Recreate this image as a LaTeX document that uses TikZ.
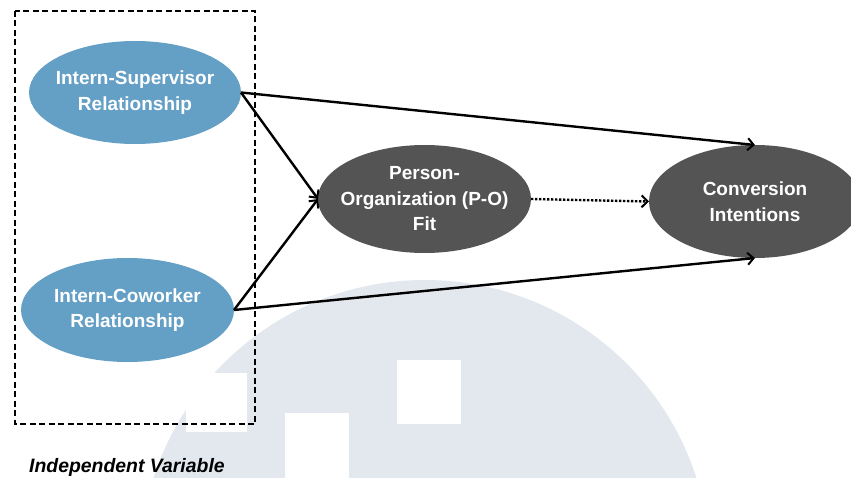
\documentclass[tikz,border=0pt]{standalone}
\usepackage{fontspec}
\setmainfont{Liberation Sans}
\usetikzlibrary{shapes.geometric,arrows.meta}

\definecolor{varblue}{HTML}{649FC6}
\definecolor{vargray}{HTML}{545454}
\definecolor{markgray}{HTML}{E3E8EF}

\tikzset{
  var/.style={ellipse, inner sep=0pt, outer sep=0pt},
  ivar/.style={var, fill=varblue},
  mvar/.style={var, fill=vargray},
  vartext/.style={text=white, align=center, inner sep=0pt,
    font=\bfseries\fontsize{19}{25.5}\selectfont},
  link/.style={line width=2.4pt, -{Straight Barb[length=6pt,width=12pt,line width=2pt]}},
  dotlink/.style={link, dash pattern=on 2.4pt off 1.6pt},
  groupbox/.style={line width=2.2pt, dash pattern=on 6pt off 3.5pt},
}

\begin{document}
\begin{tikzpicture}[x=1pt,y=-1pt]
  \useasboundingbox (0,0) rectangle (851,478);

  % background emblem
  \begin{scope}
    \clip (0,0) rectangle (851,478);
    \fill[markgray] (425,565) circle[radius=285];
    \fill[white] (186,373) rectangle (247,432);
    \fill[white] (285,413) rectangle (349,480);
    \fill[white] (397,360) rectangle (461,424);
  \end{scope}

  % group of independent variables
  \draw[groupbox] (15,11) rectangle (255,424);
  \node[anchor=base west, inner sep=0pt,
    font=\bfseries\itshape\fontsize{19.4}{23}\selectfont]
    (indep) at (29,472) {Independent Variable};

  % constructs
  \node[ivar, minimum width=212pt, minimum height=103pt] (sup) at (135,92.5) {};
  \node[ivar, minimum width=213pt, minimum height=104pt] (cow) at (127.5,310) {};
  \node[mvar, minimum width=213pt, minimum height=108pt] (po) at (424.5,199) {};
  \node[mvar, minimum width=212pt, minimum height=113pt] (conv) at (755,201.5) {};

  \node[vartext] (supT) at (sup.center) {Intern-Supervisor\\Relationship};
  \node[vartext] (cowT) at (cow.center) {Intern-Coworker\\Relationship};
  \node[vartext] (poT) at (po.center) {Person-\\Organization (P-O)\\Fit};
  \node[vartext] (convT) at (conv.center) {Conversion\\Intentions};

  % paths
  \draw[link] (sup.east) -- (conv.north);
  \draw[link] (sup.east) -- (po.west);
  \draw[link] (cow.east) -- (po.west);
  \draw[link] (cow.east) -- (conv.south);
  \draw[dotlink] (po.east) -- (conv.west);
\end{tikzpicture}
\end{document}
